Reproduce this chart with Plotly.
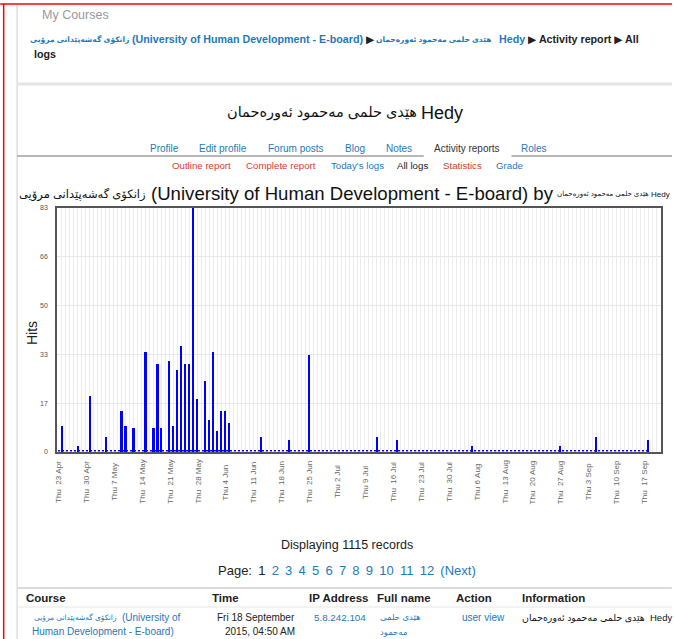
import plotly.graph_objects as go

# ---------------- data ----------------
dates = ["2015-04-24", "2015-04-28", "2015-05-01", "2015-05-05", "2015-05-09", "2015-05-10",
         "2015-05-12", "2015-05-15", "2015-05-17", "2015-05-18", "2015-05-19", "2015-05-21",
         "2015-05-22", "2015-05-23", "2015-05-24", "2015-05-25", "2015-05-26", "2015-05-27",
         "2015-05-28", "2015-05-30", "2015-05-31", "2015-06-01", "2015-06-02", "2015-06-03",
         "2015-06-04", "2015-06-05", "2015-06-13", "2015-06-20", "2015-06-25", "2015-07-12",
         "2015-07-17", "2015-08-05", "2015-08-27", "2015-09-05", "2015-09-18"]
hits = [9, 2, 19, 5, 14, 9,
        8, 34, 8, 30, 8, 31,
        9, 28, 36, 30, 30, 83,
        18, 24, 11, 34, 7, 14,
        14, 10, 5, 4, 33, 5,
        4, 2, 2, 5, 4]

week_dates = ["2015-04-23", "2015-04-30", "2015-05-07", "2015-05-14", "2015-05-21", "2015-05-28",
              "2015-06-04", "2015-06-11", "2015-06-18", "2015-06-25", "2015-07-02", "2015-07-09",
              "2015-07-16", "2015-07-23", "2015-07-30", "2015-08-06", "2015-08-13", "2015-08-20",
              "2015-08-27", "2015-09-03", "2015-09-10", "2015-09-17"]
week_labels = ["Thu  23 Apr", "Thu  30 Apr", "Thu 7 May", "Thu  14 May", "Thu  21 May", "Thu  28 May",
               "Thu 4 Jun", "Thu  11 Jun", "Thu  18 Jun", "Thu  25 Jun", "Thu 2 Jul", "Thu 9 Jul",
               "Thu  16 Jul", "Thu  23 Jul", "Thu  30 Jul", "Thu 6 Aug", "Thu  13 Aug", "Thu  20 Aug",
               "Thu  27 Aug", "Thu 3 Sep", "Thu  10 Sep", "Thu  17 Sep"]

y_tickvals = [0, 16.6, 33.2, 49.8, 66.4, 83]
y_ticktext = ["0", "17", "33", "50", "66", "83"]

first_day = "2015-04-23"
last_day = "2015-09-18"

course_ku = "زانکۆی گەشەپێدانی مرۆیی"
user_ku = "هێدی حلمی مەحمود ئەورەحمان"
course_en = "(University of Human Development - E-board)"

# ---------------- layout helpers ----------------
W, H = 674, 639
L, R = 57, 663
T, B = 208, 452
FONT = "Liberation Sans, Arial, DejaVu Sans, sans-serif"
BLUE = "#2479bd"
RED = "#d93b2b"
DARK = "#222222"


def px(x):
    return (x - L) / (R - L)


def py(y):
    return (B - y) / (B - T)


annotations = []
shapes = []


def note(x, y, text, size=10, color=DARK, xanchor="left", angle=0, xref="paper"):
    annotations.append(dict(
        x=px(x) if xref == "paper" else x, y=py(y), xref=xref, yref="paper",
        text=text, showarrow=False, xanchor=xanchor, yanchor="middle",
        textangle=angle, borderpad=0,
        font=dict(size=size, color=color, family=FONT)))


def hline(y, x0, x1, color, width):
    shapes.append(dict(type="line", xref="paper", yref="paper",
                       x0=px(x0), x1=px(x1), y0=py(y), y1=py(y),
                       line=dict(color=color, width=width)))


def vline(x, y0, y1, color, width):
    shapes.append(dict(type="line", xref="paper", yref="paper",
                       x0=px(x), x1=px(x), y0=py(y0), y1=py(y1),
                       line=dict(color=color, width=width)))


def span(t, c):
    return f'<span style="color:{c}">{t}</span>'


# page frame
hline(4, 0, 674, "#ff0000", 1.5)
vline(3.5, 4, 639, "#ff0000", 1.5)
vline(17, 5, 639, "#dddddd", 1.5)

# header / breadcrumb
note(41, 15, "My Courses", 12.5, "#9a9a9a")
note(130, 39, f"<b>{course_ku}</b>", 7.6, BLUE, "right")
note(131, 39, "<b>" + span(course_en, BLUE) + " ▶</b>", 10.7, DARK)
note(376, 39, f"<b>{user_ku}</b>", 7.5, BLUE)
note(499, 39, "<b>" + span("Hedy", BLUE) + " ▶ Activity report ▶ All</b>", 10.7, DARK)
note(33, 54, "<b>logs</b>", 10.7, DARK)
hline(84, 17, 674, "#e4e4e4", 3)

note(419, 113, user_ku, 14.5, "#111111", "right")
note(421, 113, "Hedy", 18, "#111111", "left")

tabs = [("Profile", 165, BLUE), ("Edit profile", 224, BLUE), ("Forum posts", 297, BLUE),
        ("Blog", 356, BLUE), ("Notes", 400, BLUE), ("Activity reports", 468, "#333333"),
        ("Roles", 536, BLUE)]
for t, x, c in tabs:
    note(x, 148, t, 10, c, "center")
hline(156, 17, 425, "#a0a0a0", 1.5)
hline(156, 513, 674, "#a0a0a0", 1.5)

subtabs = [("Outline report", 202, RED), ("Complete report", 282, RED), ("Today's logs", 358, BLUE),
           ("All logs", 414, "#222222"), ("Statistics", 464, RED), ("Grade", 511, BLUE)]
for t, x, c in subtabs:
    note(x, 166, t, 9.7, c, "center")

# chart title (course name by user name) and axis labels
note(147, 194, course_ku, 11.5, "#111111", "right")
note(150, 193, f"{course_en} by", 18.6, "#111111", "left")
note(558, 194, user_ku, 7, "#111111", "left")
note(652, 194, "Hedy", 8, "#111111", "left")
note(32, 333, "Hits", 14, DARK, "center", -90)
for d, lab in zip(week_dates, week_labels):
    note(d, 482, lab.replace(" ", "\u00a0"), 8, "#666666", "center", -90, xref="x")

# baseline markers for days with no hits
shapes.append(dict(type="line", xref="x", yref="y", x0=first_day, x1=last_day, y0=0.45, y1=0.45,
                   line=dict(color="#0000ff", width=1.5, dash="2px,2px")))

# footer
note(348, 545, "Displaying 1115 records", 12.5, DARK, "center")
gap = " \u2009"
pages = ("Page:" + gap + "1" + gap + gap.join(span(str(i), BLUE) for i in range(2, 13)) +
         gap + span("(Next)", BLUE))
note(348, 570, pages, 13, DARK, "center")

hline(588, 17, 674, "#dddddd", 2)
for t, x in [("Course", 25), ("Time", 212), ("IP Address", 309), ("Full name", 377),
             ("Action", 456), ("Information", 523)]:
    note(x, 598, f"<b>{t}</b>", 11.5, DARK)
hline(607, 17, 674, "#e6e6e6", 1)

note(118, 617, course_ku, 7.5, BLUE, "right")
note(121, 617, "(University of", 10, BLUE)
note(31, 631, "Human Development - E-board)", 10, BLUE)
note(297, 617, "Fri 18 September", 10, DARK, "right")
note(297, 631, "2015, 04:50 AM", 10, DARK, "right")
note(314, 617, "5.8.242.104", 9.8, BLUE)
note(380, 617, "هێدی حلمی", 8.5, BLUE)
note(380, 632, "مەحمود", 8.5, BLUE)
note(462, 617, "user view", 10, BLUE)
note(648, 617, user_ku, 9.4, "#111111", "right")
note(651, 617, "Hedy", 9.5, "#111111")

# ---------------- figure ----------------
fig = go.Figure(go.Bar(
    x=dates, y=hits, width=0.42 * 86400000,
    marker=dict(color="#0000ff", line=dict(width=0)),
    hoverinfo="x+y"))

fig.update_layout(
    width=W, height=H,
    margin=dict(l=L, r=W - R, t=T, b=H - B, pad=0),
    paper_bgcolor="white", plot_bgcolor="white",
    showlegend=False,
    font=dict(family=FONT),
    xaxis=dict(type="date", range=["2015-04-22 18:00", "2015-09-21 06:00"],
               showticklabels=False, ticks="", tick0=first_day, dtick=86400000,
               showgrid=True, gridcolor="#ececec", gridwidth=1,
               showline=True, mirror=True, linecolor="#555555", linewidth=1.5,
               zeroline=False, fixedrange=True),
    yaxis=dict(range=[0, 83], tickmode="array", tickvals=y_tickvals, ticktext=y_ticktext,
               tickfont=dict(size=7, color="#555555", family=FONT), ticks="",
               ticklabelstandoff=6,
               showgrid=True, gridcolor="#e8e8e8", gridwidth=1,
               showline=True, mirror=True, linecolor="#555555", linewidth=1.5,
               zeroline=False, fixedrange=True),
    annotations=annotations,
    shapes=shapes,
    bargap=0,
)

fig.write_html("out.html", config={"displayModeBar": False},
               post_script="document.body.style.margin='0px';document.body.style.overflow='hidden';")
